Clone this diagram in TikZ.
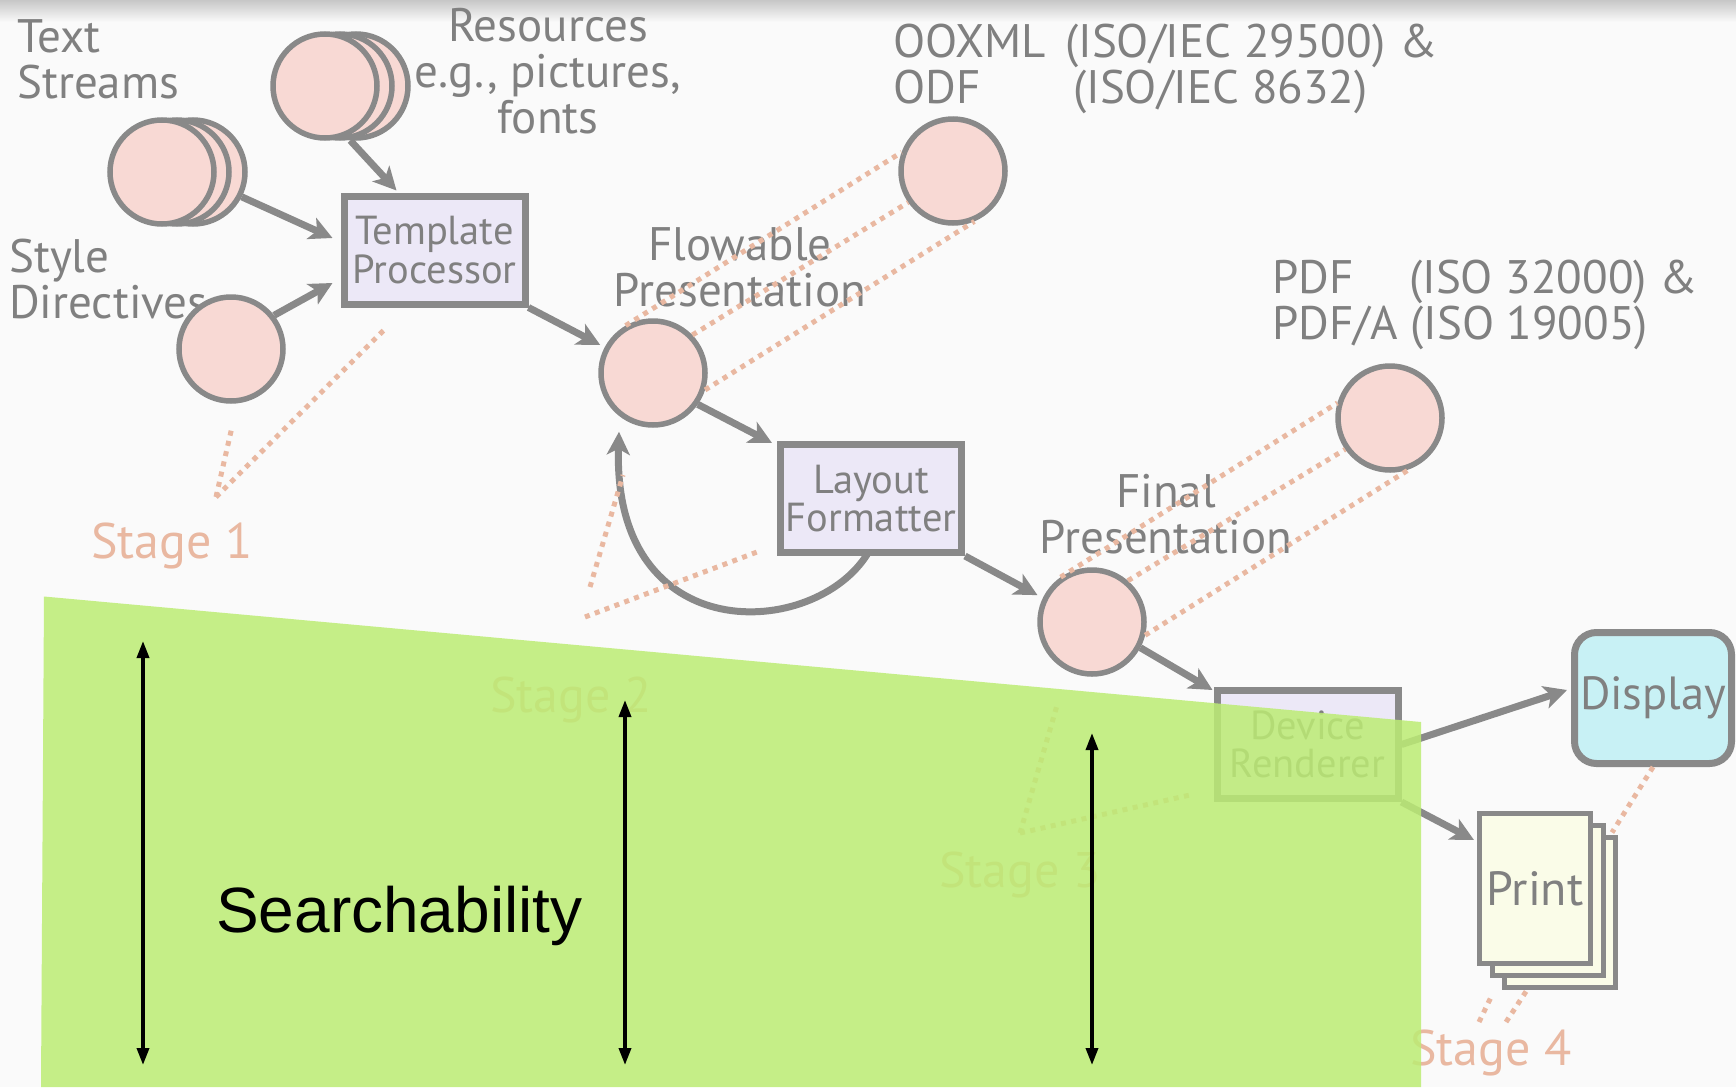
\documentclass[tikz,border=0pt]{standalone}
\usepackage{fontspec}
\setmainfont{PT Sans}
\newfontfamily\arialfont{Liberation Sans}
\usetikzlibrary{arrows.meta,calc}

\definecolor{bgcol}{RGB}{250,250,250}
\definecolor{labelgray}{RGB}{128,128,128}
\definecolor{linegray}{RGB}{137,137,137}
\definecolor{discfill}{RGB}{248,217,212}
\definecolor{procfill}{RGB}{236,232,247}
\definecolor{dispfill}{RGB}{200,241,245}
\definecolor{paperfill}{RGB}{250,252,232}
\definecolor{stagecol}{RGB}{233,184,161}
\definecolor{searchgreen}{RGB}{188,236,116}

% stacked lines whose baseline is the baseline of the first line
\newcommand\linesL[1]{\vtop{\halign{##\hfil\cr#1\crcr}}}
\newcommand\linesC[1]{\vtop{\halign{\hfil##\hfil\cr#1\crcr}}}

\tikzset{
  labeltext/.style={inner sep=0pt, text=labelgray, font=\fontsize{47}{46}\selectfont},
  stagetext/.style={inner sep=0pt, text=stagecol, font=\fontsize{50}{50}\selectfont, anchor=base west},
  discnode/.style={circle, draw=linegray, fill=discfill, line width=5.5pt, minimum size=104pt, inner sep=0pt},
  procbox/.style={rectangle, draw=linegray, fill=procfill, line width=7pt, minimum width=181pt,
    minimum height=108pt, inner sep=0pt, align=center, text=labelgray, font=\fontsize{40.5}{38.5}\selectfont},
  paperbox/.style={rectangle, draw=linegray, fill=paperfill, line width=5pt, minimum width=111pt,
    minimum height=150pt, inner sep=0pt, text=labelgray, font=\fontsize{48}{48}\selectfont},
  flowarrow/.style={draw=linegray, line width=7pt, -{Stealth[length=23pt,width=23pt,inset=6pt]}},
  stageline/.style={draw=stagecol, line width=5pt, dash pattern=on 5pt off 5.5pt},
  vspan/.style={draw=black, line width=3.5pt,
    {Triangle[length=17pt,width=12pt]}-{Triangle[length=17pt,width=12pt]}},
}

\begin{document}
\begin{tikzpicture}[x=1pt,y=-1pt]
\useasboundingbox (0,0) rectangle (1736,1087);
\fill[bgcol] (0,0) rectangle (1736,1087);
\shade[top color=black!22, bottom color=bgcol] (0,0) rectangle (1736,22);

% ---- labels
\node[labeltext, anchor=base west] (tsLabel) at (17,52) {\linesL{Text\cr Streams}};
\node[labeltext, anchor=base] (rsLabel) at (548,41) {\linesC{Resources\cr e.g., pictures,\cr fonts}};
\node[labeltext, anchor=base west] (ooLabel) at (893,57)
  {\linesL{\makebox[172pt][l]{OOXML}(ISO/IEC 29500)\hspace{14pt}\&\cr \makebox[180pt][l]{ODF}(ISO/IEC 8632)}};
\node[labeltext, anchor=base west] (sdLabel) at (9,272) {\linesL{Style\cr Directives}};
\node[labeltext, anchor=base] (fpLabel) at (740,260) {\linesC{Flowable\cr Presentation}};
\node[labeltext, anchor=base west] (pdfLabel) at (1272,293)
  {\linesL{\makebox[137pt][l]{PDF}(ISO 32000) \&\cr PDF/A (ISO 19005)}};
\node[labeltext, anchor=base] (finLabel) at (1166,507) {\linesC{Final\cr Presentation}};

\node[stagetext] (stage1) at (91,558) {Stage 1};
\node[stagetext] (stage2) at (490,712) {Stage 2};
\node[stagetext] (stage3) at (939,887) {Stage 3};
\node[stagetext] (stage4) at (1410,1065) {Stage 4};

% ---- data discs
\node[discnode] (ts3) at (193,172) {};
\node[discnode] (ts2) at (177,172) {};
\node[discnode] (ts1) at (162,172) {};
\node[discnode] (rs3) at (356,86) {};
\node[discnode] (rs2) at (340,86) {};
\node[discnode] (rs1) at (325,86) {};
\node[discnode] (sd) at (231,349) {};
\node[discnode] (oo) at (953,171) {};
\node[discnode] (fp) at (653,373) {};
\node[discnode] (pdf) at (1390,418) {};
\node[discnode] (fin) at (1092,622) {};

% ---- processors and outputs
\node[procbox] (tp) at (434.5,250) {Template\\Processor};
\node[procbox] (lf) at (871,498.5) {Layout\\Formatter};
\node[procbox] (dr) at (1307.5,744.5) {Device\\Renderer};
\node[procbox, fill=dispfill, rounded corners=22pt, minimum width=157pt, minimum height=131pt,
  font=\fontsize{46.5}{46}\selectfont] (disp) at (1653,698) {Display};
\node[paperbox] (pr3) at (1560,912) {};
\node[paperbox] (pr2) at (1548,900) {};
\node[paperbox] (pr1) at (1535,888.5) {Print};

% ---- flow
\draw[flowarrow] (ts3.-27) -- ($(tp.west)+(-8,-12)$);
\draw[flowarrow] (rs3.-96) -- ($(tp.north)+(-38,-2)$);
\draw[flowarrow] (sd.38) -- ($(tp.west)+(-8,33)$);
\draw[flowarrow, shorten >=5pt] (tp.south east) -- (fp.152);
\draw[flowarrow] (fp.-35) -- ($(lf.north west)+(-5,2)$);
\draw[flowarrow] ($(lf.south)+(-3,-3)$) .. controls (815,640) and (612,650) .. ($(fp.south)+(-34,4)$);
\draw[flowarrow, shorten >=6pt] (lf.south east) -- (fin.154);
\draw[flowarrow] (fin.-28) -- ($(dr.north west)+(-1,3)$);
\draw[flowarrow] (dr.east) -- ($(disp.west)+(-4,-8)$);
\draw[flowarrow] (dr.south east) -- ($(pr1.north west)+(-3,29)$);

% ---- stage guides
\draw[stageline] (216,497) -- (232,427);
\draw[stageline] (216,497) -- (387,327);
\draw[stageline] (fp.120) -- (oo.160);
\draw[stageline] (fp.44) -- (oo.215);
\draw[stageline] (fp.-18) -- (oo.-67);
\draw[stageline] (590,587) -- (623,475);
\draw[stageline] (585,617) -- (757,552);
\draw[stageline] (fin.125) -- (pdf.164);
\draw[stageline] (fin.49) -- (pdf.215);
\draw[stageline] (fin.-14) -- (pdf.-69);
\draw[stageline] (1020,833) -- (1058,702);
\draw[stageline] (1020,833) -- (1190,795);
\draw[stageline] (disp.south) -- ($(pr3.north east)+(-6,-2)$);
\draw[stageline] (1479,1022) -- (1492,995);
\draw[stageline] (1506,1022) -- (1527,990);

% ---- searchability band
\fill[searchgreen, fill opacity=0.85] (44,596.5) -- (1421,722) -- (1421,1087) -- (41,1087) -- cycle;
\coordinate (s1t) at (143,641);  \coordinate (s1b) at (143,1065);
\coordinate (s2t) at (625,700);  \coordinate (s2b) at (625,1065);
\coordinate (s3t) at (1092,733); \coordinate (s3b) at (1092,1065);
\draw[vspan] (s1t) -- (s1b);
\draw[vspan] (s2t) -- (s2b);
\draw[vspan] (s3t) -- (s3b);
\node[font=\arialfont\fontsize{64}{64}\selectfont, anchor=base west, inner sep=0pt] (search) at (216,932) {Searchability};
\end{tikzpicture}
\end{document}
